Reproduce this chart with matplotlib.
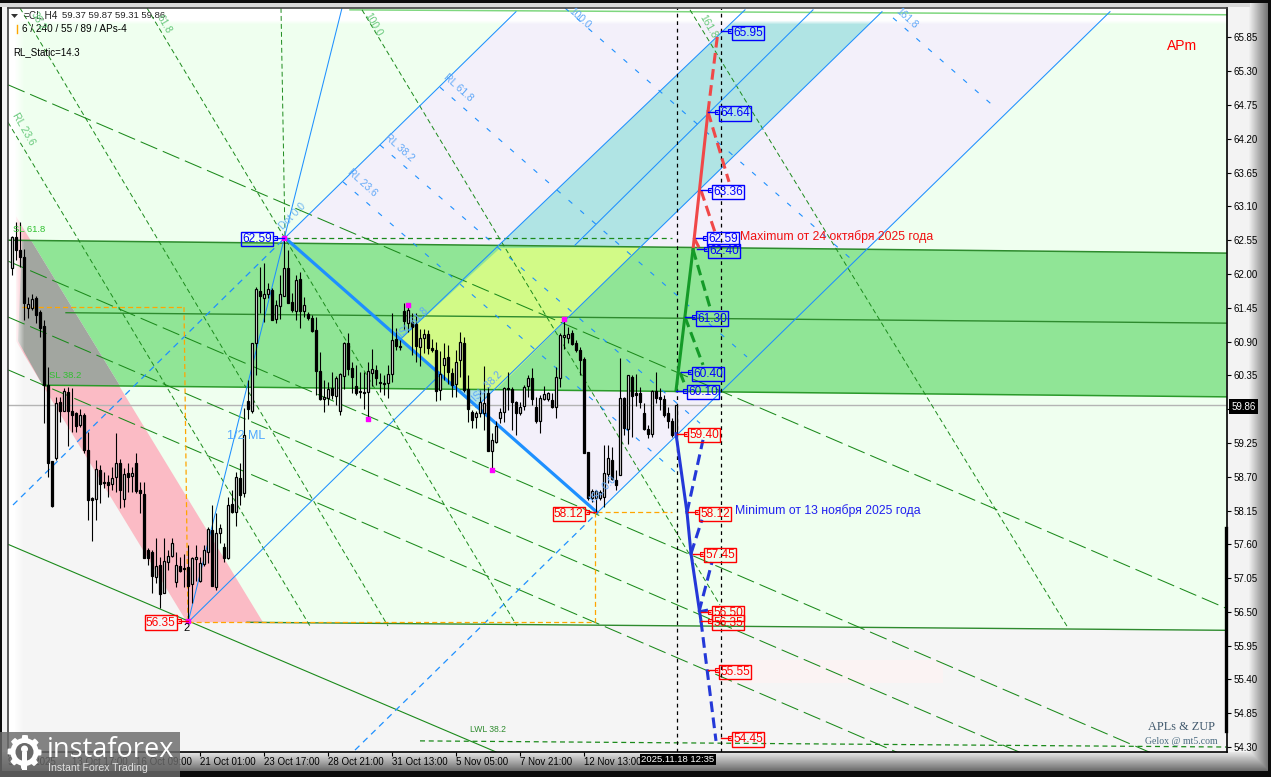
import numpy as np
import matplotlib
matplotlib.use('Agg')
import matplotlib.pyplot as plt
from matplotlib.patches import Polygon, Rectangle, Circle

plt.rcParams['font.family'] = ['Liberation Sans', 'DejaVu Sans']

# CL H4 candles, left to right
opens = [62.10,62.60,62.39,62.27,61.45,61.45,61.61,61.38,61.16,60.20,
         58.95,59.00,59.92,59.77,60.08,59.77,59.74,59.54,59.71,59.13,
         58.35,58.34,58.81,58.61,58.61,58.58,58.70,58.92,58.34,58.76,
         58.71,58.92,58.48,58.42,57.51,57.48,57.07,57.26,56.80,57.32,
         57.41,56.98,57.25,57.21,57.23,56.95,57.36,57.00,57.28,57.47,
         57.83,56.90,57.78,57.55,57.37,58.26,58.13,58.68,58.43,59.93,
         59.77,60.88,61.73,61.61,61.68,61.74,61.27,61.48,61.65,62.09,
         61.55,61.40,61.92,61.40,61.35,61.29,61.09,60.42,59.97,59.98,
         60.15,60.01,59.77,60.34,60.88,60.47,60.18,60.10,60.08,60.08,
         60.39,60.44,60.25,60.23,60.23,60.38,60.94,60.83,61.40,61.21,
         61.22,61.19,60.81,60.96,61.03,60.79,60.76,60.11,60.52,60.65,
         60.39,60.21,60.60,60.88,60.13,59.75,59.67,59.74,59.74,60.06,
         59.12,59.27,59.66,59.75,60.15,60.13,59.92,59.74,59.85,60.18,
         60.31,59.84,59.61,59.97,59.97,59.95,59.84,60.31,60.97,60.96,
         61.04,60.88,60.76,60.62,59.10,58.35,58.35,58.35,58.37,58.74,
         58.97,58.65,58.73,59.98,59.47,60.33,60.06,60.06,59.74,59.48,
         59.40,60.10,60.00,59.97,59.74,59.61,59.37]
highs = [62.62,62.85,62.85,62.40,61.63,61.68,61.64,61.42,61.25,60.49,
         58.95,60.00,60.00,60.15,60.16,60.15,59.76,59.80,59.74,59.43,
         58.37,58.97,58.89,58.78,58.73,58.86,59.41,58.99,58.84,58.92,
         58.86,59.08,58.61,58.61,57.54,57.51,57.70,57.39,57.70,57.51,
         57.70,57.47,57.39,57.44,57.59,57.39,57.59,57.39,57.59,57.88,
         58.24,58.11,57.93,57.62,58.37,58.48,58.78,58.92,59.82,60.28,
         60.88,61.79,62.12,62.18,61.86,61.78,61.58,61.99,62.59,62.39,
         61.69,61.99,62.04,61.63,61.38,61.33,61.30,60.73,60.28,60.25,
         60.41,60.34,60.39,60.90,61.04,60.57,60.52,60.41,60.41,60.57,
         60.78,60.52,60.39,60.36,60.52,61.37,61.12,60.93,61.53,61.51,
         61.37,61.37,61.11,61.11,61.09,60.94,60.90,60.74,60.88,60.85,
         60.47,60.76,61.06,60.98,60.36,59.79,59.77,60.11,60.50,60.16,
         59.41,59.60,59.82,60.16,60.41,60.16,59.93,59.92,60.20,60.36,
         60.47,60.00,60.03,60.18,60.08,60.07,60.49,61.04,61.27,61.14,
         61.09,60.93,60.81,60.65,59.10,58.50,58.48,58.48,59.22,59.22,
         59.19,58.81,60.63,60.00,60.35,60.35,60.38,60.16,59.90,59.54,
         60.11,60.41,60.15,60.03,59.84,59.66,59.87]
lows = [61.99,62.23,62.12,61.25,61.29,61.42,61.21,60.98,59.58,58.69,
        58.21,58.98,59.59,59.77,59.20,59.43,59.42,59.51,59.08,57.99,
        57.65,57.99,58.27,58.52,58.37,58.48,58.45,58.19,58.21,58.45,
        58.45,58.43,58.11,57.37,57.26,56.80,56.97,56.56,56.80,57.18,
        57.39,56.90,57.15,56.90,56.35,56.64,57.00,56.98,57.25,57.30,
        56.92,56.85,57.62,57.31,57.36,58.11,57.90,58.24,58.37,59.64,
        59.74,60.36,61.37,61.22,61.61,61.25,61.21,61.27,61.65,61.53,
        61.38,61.25,61.12,61.30,61.25,61.06,60.03,59.95,59.75,59.87,
        59.97,59.87,59.71,60.13,60.36,60.06,60.03,59.98,59.80,59.64,
        60.18,60.20,60.08,60.03,59.98,60.25,60.76,60.76,61.09,61.06,
        60.68,60.57,60.50,60.72,60.69,60.73,59.93,59.95,60.28,60.21,
        60.00,60.00,60.33,60.08,59.59,59.49,59.49,59.67,59.46,59.12,
        58.81,59.25,59.57,59.59,59.79,59.46,59.38,59.71,59.79,60.00,
        59.87,59.57,59.41,59.95,59.93,59.82,59.66,60.16,60.78,60.88,
        60.85,60.73,60.36,59.08,58.32,58.29,58.12,58.32,58.20,58.60,
        58.65,58.48,58.73,59.38,59.23,59.35,59.85,59.82,59.46,59.33,
        59.35,59.90,59.79,59.67,59.49,59.35,59.31]
closes = [62.60,62.39,62.27,61.53,61.51,61.60,61.33,61.12,60.20,58.92,
          58.23,59.90,59.77,60.10,59.77,59.71,59.53,59.71,59.13,58.32,
          58.32,58.83,58.58,58.59,58.56,58.68,58.92,58.48,58.75,58.70,
          58.76,58.47,58.43,57.38,57.38,57.08,57.25,56.79,57.33,57.41,
          57.62,57.26,57.17,57.20,56.92,57.38,57.39,57.30,57.51,57.85,
          56.92,57.78,57.87,57.38,58.24,58.13,58.70,58.40,59.38,59.80,
          60.88,61.76,61.65,61.68,61.76,61.25,61.50,61.68,62.10,61.53,
          61.42,61.91,61.40,61.50,61.29,61.07,60.42,59.97,60.00,60.13,
          60.03,60.31,60.38,60.88,60.46,60.33,60.07,60.08,60.07,60.42,
          60.46,60.31,60.23,60.21,60.38,60.93,60.83,60.81,61.24,61.42,
          61.14,60.83,60.96,61.03,60.79,60.76,60.10,60.38,60.63,60.41,
          60.20,60.57,60.90,60.11,59.80,59.62,59.74,59.92,59.90,59.12,
          59.30,59.53,59.75,60.15,60.13,59.92,59.74,59.84,60.16,60.31,
          59.97,59.61,59.98,60.05,60.07,59.84,60.33,61.01,61.01,61.03,
          60.86,60.76,60.60,59.08,58.35,58.47,58.47,58.45,58.76,59.00,
          58.66,58.56,59.98,59.49,60.35,60.01,60.03,59.92,59.48,59.40,
          60.10,59.98,59.97,59.71,59.61,59.38,59.86]

# axis labels
price_ticks = [65.85,65.30,64.75,64.20,63.65,63.10,62.55,62.00,61.45,60.90,60.35,
               59.80,59.25,58.70,58.15,57.60,57.05,56.50,55.95,55.40,54.85,54.30]
time_bars = [-1,15,31,47,63,79,95,111,127,143]
time_labels = ['9 Oct 2025','13 Oct 17:00','16 Oct 09:00','21 Oct 01:00','23 Oct 17:00',
               '28 Oct 21:00','31 Oct 13:00','5 Nov 05:00','7 Nov 21:00','12 Nov 13:00']
last_price = 59.86

# zones (bar, price)
green_zone = [(4.75,62.55),(303.5,62.34),(303.5,60.00),(27,60.18)]
grey_zone = [(2.5,62.55),(4.75,62.55),(27,60.18),(7.75,60.18),(1.5,60.91)]
pink_zone = [(1,62.94),(62.75,56.33),(43.75,56.33),(7.75,60.18),(1,60.91)]
lavender_zone = [(68.25,62.59),(127,66.33),(275.5,66.33),(146.25,58.12)]
teal_zone = [(97,60.93),(183.75,66.33),(218.5,66.33),(116,59.83)]
yellow_zone = [(97,60.93),(122,62.42),(157,62.44),(121.25,60.13),(111,60.13)]
grey_floor = [(-1,60.91),(1,60.91),(43.75,56.33),(58.75,56.33),(303.75,56.20),(303.75,54.2),(-1,54.2)]

# lines: (bar0, price0, bar1, price1)
long_dash = [(-1,65.08,303.5,56.56),(-1,62.21,303.5,53.68),(-1,61.30,303.5,52.77),(-1,60.44,303.5,51.91)]
short_green = [(33.75,66.33,126.25,56.27),(2,66.33,94,56.27),(-1,64.47,74.5,56.27),
               (87.5,66.30,177,56.61),(169.5,66.30,264,56.24),(67.25,66.33,68.25,62.59)]
short_blue = [(107,65.04,183.75,60.65),(92,64.10,172,59.57),(82.75,63.50,165.75,58.78),
              (138.25,66.33,209.5,62.26),(220.25,66.17,246.5,64.67)]
long_blue = [(0.25,58.24,68.25,62.59),(85.75,54.25,146.25,58.11)]
thin_blue = [(44,56.33,82.5,66.33),(44,56.33,107,60.36),(140.75,62.47,200.25,66.30),
             (68.25,62.59,126,66.27),(97,60.93,183.25,66.30),(116,59.83,217.5,66.27),(146.25,58.11,274.5,66.27)]
orange = [(2.5,61.46,43,61.46),(43,61.46,44,56.33),(44,56.33,145.75,56.33),
          (145.75,58.12,145.75,56.33),(146.25,58.12,165,58.12)]

# forecast paths
red_solid = [(170.25,62.40,174,64.64)]
red_dash = [(174,64.64,176.5,65.95),(172.25,63.36,175.75,62.68),(174,64.64,179.25,63.50),(170.5,62.59,172,62.40)]
green_solid = [(166,60.10,170.25,62.40)]
green_dash = [(170.25,62.40,174.75,61.40),(168.25,61.30,172.75,60.52),(167,60.40,168.25,60.19)]
blue_solid = [(166,59.40,168.75,58.12),(168.75,58.12,169.75,57.45),(169.75,57.45,172.25,56.35)]
blue_dash = [(168.75,58.12,172.75,59.30),(169.75,57.45,172.5,58.00),(171.75,56.50,175,57.31),
             (171.75,56.50,174,56.53),(172.25,56.35,176,54.40)]

# price tags
tag_bars = [177.25,174,172.25,171,171.25,168.25,167.25,166]
tag_blue = [65.95,64.64,63.36,62.59,62.40,61.30,60.40,60.10]
tag_red_bars = [166.25,169,170.25,172.25,172.25,174,177.25]
tag_red = [59.40,58.12,57.45,56.50,56.35,55.55,54.45]
left_bars = [68,146,44]
left_vals = [62.59,58.12,56.35]
left_cols = ['blue','red','red']
pivot_bars = [68,89,99,120,138,44]
pivot_vals = [62.59,59.64,61.49,58.81,61.27,56.35]


def p_lines(ax, segs, **kw):
    for b0, p0, b1, p1 in segs:
        ax.plot([b0, b1], [p0, p1], **kw)


fig = plt.figure(figsize=(12.71, 7.77), dpi=100)

# window bevel behind everything
img = np.full((777, 1271), 0.955)
for x in range(1248, 1268):
    img[:, x] = 0.955 - 0.52 * (x - 1248) / 20
for y in range(752, 771):
    v = 0.9 - 0.5 * (y - 752) / 19
    img[y, :] = np.minimum(img[y, :], v)
img[:3, :] = 0.05
img[771:, :] = 0.05
img[:, :2] = 0.05
img[:, 1268:] = 0.05
img[3:7, :1250] = 0.85
bg = fig.add_axes([0, 0, 1, 1], zorder=0)
bg.imshow(img, cmap='gray', vmin=0, vmax=1, aspect='auto', extent=(0, 1271, 777, 0))
bg.axis('off')

ax = fig.add_axes([8/1271, 25/777, 1219/1271, 744/777], zorder=1)
ax.set_xlim(-1, 303.75)
ax.set_ylim(54.219, 66.33)
ax.set_facecolor('#EFFFEF')

ax.add_patch(Polygon(grey_floor, fc='#F5F5F5', ec='none', zorder=1))
ax.add_patch(Rectangle((178.25, 55.34), 54.5, 0.38, fc='#FBF3F3', ec='none', zorder=1.1))
ax.add_patch(Polygon(lavender_zone, fc='#F3F0FA', ec='none', zorder=1.2))
ax.add_patch(Polygon(teal_zone, fc='#B0E4E4', ec='none', zorder=1.3))
ax.add_patch(Polygon(pink_zone, fc='#FBBBC5', ec='none', zorder=1.4))
ax.add_patch(Polygon(green_zone, fc='#90E596', ec='none', zorder=1.5))
ax.add_patch(Polygon(yellow_zone, fc='#D2FA87', ec='none', zorder=1.6))
ax.add_patch(Polygon(grey_zone, fc='#A2A6A0', ec='none', zorder=1.6))

# white fade along the left and top of the window
fade_x = np.ones((2, 16, 4))
fade_x[:, :, 3] = np.clip((16 - np.arange(16)) / 10, 0, 1)
ax.imshow(fade_x, extent=(-1, 3, 54.219, 66.33), aspect='auto', zorder=1.7)
fade_y = np.ones((16, 2, 4))
fade_y[:, :, 3] = np.clip((16 - np.arange(16)) / 4, 0, 1)[:, None]
ax.imshow(fade_y, extent=(-1, 303.75, 66.07, 66.33), aspect='auto', zorder=1.7)
ax.set_xlim(-1, 303.75)
ax.set_ylim(54.219, 66.33)

ax.axhline(last_price, color='#B4B4B4', lw=1, zorder=2)

green = '#1B8A1B'
ax.plot([-1, 303.5], [62.55, 62.34], color='#2E8B2E', lw=1.1, zorder=2)
ax.plot([13.5, 303.5], [61.37, 61.20], color='#2E8B2E', lw=1, zorder=2)
ax.plot([7.75, 303.5], [60.19, 60.00], color='#2A9A2A', lw=1.1, zorder=2)
ax.plot([58.75, 303.5], [56.33, 56.20], color='#2E8B2E', lw=1, zorder=2)
ax.plot([84.5, 303.5], [66.30, 66.22], color='#7FD77F', lw=1.1, zorder=2)
ax.plot([-1, 121], [57.60, 54.22], color=green, lw=0.8, zorder=2)
ax.plot([102, 303.5], [54.40, 54.30], color=green, lw=0.9, dashes=(4, 3), zorder=2)
ax.plot([68.25, 165], [62.59, 62.59], color=green, lw=0.9, dashes=(4, 3), zorder=2)

p_lines(ax, long_dash, color=green, lw=0.75, dashes=(17.3, 5.8), zorder=2)
p_lines(ax, short_green, color=green, lw=0.7, dashes=(5, 3.2), zorder=2)
p_lines(ax, short_blue, color='#1E90FF', lw=0.8, dashes=(4.5, 9.5), zorder=2)
p_lines(ax, long_blue, color='#1E90FF', lw=0.9, dashes=(5, 4), zorder=2)
p_lines(ax, thin_blue, color='#1E90FF', lw=0.75, zorder=2)
p_lines(ax, orange, color='#FFA500', lw=0.9, dashes=(4, 2.5), zorder=2.1)
ax.plot([68.25, 146.25], [62.59, 58.12], color='#1E90FF', lw=2.3, zorder=2.2)

for b in [166.25, 177.25]:
    ax.axvline(b, color='black', lw=0.9, dashes=(3, 3), zorder=2.3)

# candles
bars = np.arange(len(opens))
o, h, l, c = map(np.array, (opens, highs, lows, closes))
up = c >= o
ax.vlines(bars, l, h, color='black', lw=0.8, zorder=3)
ax.bar(bars[up], (c - o)[up], bottom=o[up], width=0.62, color='white',
       edgecolor='black', linewidth=0.9, zorder=3.1)
ax.bar(bars[~up], (o - c)[~up], bottom=c[~up], width=0.62, color='black',
       edgecolor='black', linewidth=0.9, zorder=3.1)
ax.scatter(pivot_bars, pivot_vals, s=5, marker='s', color='#FF00FF', zorder=3.2)

# forecast
p_lines(ax, red_solid, color='#F04848', lw=2.2, zorder=4)
p_lines(ax, red_dash, color='#F04848', lw=2.2, dashes=(3.5, 1.8), zorder=4)
p_lines(ax, green_solid, color='#149A28', lw=2.2, zorder=4)
p_lines(ax, green_dash, color='#149A28', lw=2.2, dashes=(3.5, 1.8), zorder=4)
p_lines(ax, blue_solid, color='#2438D8', lw=2.2, zorder=4)
p_lines(ax, blue_dash, color='#2438D8', lw=2.2, dashes=(3.5, 1.8), zorder=4)


def tag(b, v, col, side=1):
    gap = 9 / 4 * side
    ax.plot([b, b + gap], [v, v], color=col, lw=1, zorder=4.5)
    ax.plot([b + gap], [v], marker='s', ms=2.6, mfc='none', mec=col, mew=0.8, zorder=4.5)
    ax.annotate(f'{v:.2f}', (b + gap, v), xytext=(2.4 * side, 0), textcoords='offset points',
                ha='left' if side > 0 else 'right', va='center_baseline', color=col, fontsize=8.6, zorder=5,
                bbox=dict(boxstyle='square,pad=0.1', fc='none', ec=col, lw=1))


for b, v in zip(tag_bars, tag_blue):
    tag(b, v, 'blue')
for b, v in zip(tag_red_bars, tag_red):
    tag(b, v, 'red')
for b, v, col in zip(left_bars, left_vals, left_cols):
    tag(b, v, col, side=-1)

# axes
ax.yaxis.tick_right()
ax.set_yticks(price_ticks)
ax.set_yticklabels([f'{v:.2f}' for v in price_ticks])
ax.set_xticks(time_bars)
ax.set_xticklabels(time_labels, ha='left')
ax.tick_params(axis='both', length=3, width=0.8, labelsize=7, pad=2, color='black')
ax.tick_params(axis='x', pad=0.8)
for s in ['right', 'bottom']:
    ax.spines[s].set_color('black')
    ax.spines[s].set_linewidth(1.2)
for s in ['top', 'left']:
    ax.spines[s].set_color('#404040')
    ax.spines[s].set_linewidth(1.2)
ax.plot([303.55, 303.55], [54.56, 57.86], color='black', lw=2.4, clip_on=False, zorder=5)

# text, watermark and tags in window pixels
top = fig.add_axes([0, 0, 1, 1], zorder=2)
top.set_xlim(0, 1271)
top.set_ylim(777, 0)
top.axis('off')

top.text(24, 16, '=CL,H4', fontsize=7.2, va='center', color='#222222')
top.text(62, 16, '59.37 59.87 59.31 59.86', fontsize=6.8, va='center', color='#222222')
top.add_patch(Polygon([(11, 14), (18, 14), (14.5, 18)], fc='#333333', ec='none'))
top.plot([16.5, 16.5], [25, 33], color='#FFA500', lw=1)
top.text(22, 29, '6 / 240 / 55 / 89 / APs-4', fontsize=7.2, va='center')
top.text(13, 52, 'RL_Static=14.3', fontsize=7, va='center')
top.text(1167, 46, 'APm', fontsize=10, va='center', color='red')
top.text(740, 237, 'Maximum от 24 октября 2025 года', fontsize=8.8, va='center', color='#F01010')
top.text(735, 511, 'Minimum от 13 ноября 2025 года', fontsize=8.8, va='center', color='#2020F0')
top.text(227, 436, '1/2 ML', fontsize=9, va='center', color='#4DA6FF')
top.text(187, 628, '2', fontsize=8, va='center', ha='center')
top.text(1181, 727, 'APLs & ZUP', fontsize=8.8, va='center', ha='center', family='Liberation Serif', color='#40586C')
top.text(1181, 741, 'Gelox @ mt5.com', fontsize=7, va='center', ha='center', family='Liberation Serif', color='#4A6A80')

for txt, x, y, rot, col in [('RL 23.6', 24, 129, -60, '#66C87A'), ('38.2', 38, 21, -60, '#66C87A'),
                            ('61.8', 164, 24, -60, '#66C87A'), ('100.0', 373, 25, -60, '#66C87A'),
                            ('161.8', 708, 27, -60, '#66C87A'), ('RL 23.6', 362, 183, -42, '#60A8F8'),
                            ('RL 38.2', 399, 148, -42, '#60A8F8'), ('RL 61.8', 458, 88, -42, '#60A8F8'),
                            ('100.0', 580, 18, -42, '#60A8F8'), ('161.8', 907, 18, -42, '#60A8F8'),
                            ('Dot 0.0', 293, 216, 45, '#70B8F0'), ('ISL 61.8', 413, 323, 45, '#60A8F8'),
                            ('ISL 38.2', 487, 386, 45, '#60A8F8'), ('ISL 0.0', 603, 490, 45, '#60A8F8')]:
    top.text(x, y, txt, fontsize=7.4, rotation=rot, ha='center', va='center', color=col)
top.text(13, 230, 'SL 61.8', fontsize=6.8, va='center', color='#30C030')
top.text(49, 375, 'SL 38.2', fontsize=6.8, va='center', color='#30C030')
top.text(470, 729, 'LWL 38.2', fontsize=6.2, va='center', color='#2E8B2E')

top.text(1243.5, 406.5, f'{last_price:.2f}', fontsize=7, ha='center', va='center', color='white',
         bbox=dict(boxstyle='square,pad=0.25', fc='black', ec='none'))
top.add_patch(Rectangle((640, 754), 76, 11, fc='black', ec='none'))
top.text(678, 759.5, '2025.11.18 12:35', fontsize=6.8, ha='center', va='center', color='white')

# watermark
top.add_patch(Rectangle((0, 732), 180, 45, fc='#6A6A6A', ec='none', alpha=0.82))
ang = np.linspace(0, 2 * np.pi, 97)
rad = 17 - 3 * (np.cos(8 * ang) < 0)
gear = np.column_stack([24.5 + rad * np.cos(ang), 752 + rad * np.sin(ang)])
top.add_patch(Polygon(gear, fc='white', ec='none'))
top.add_patch(Circle((24.5, 752), 9, fc='#6A6A6A', ec='none'))
top.add_patch(Circle((24.5, 749), 3.5, fc='white', ec='none'))
top.add_patch(Rectangle((22, 752), 5, 18, fc='white', ec='none'))
top.text(47, 750, 'instaforex', fontsize=19.5, va='center', color='white', family='Open Sans')
top.text(48, 768, 'Instant Forex Trading', fontsize=7.6, va='center', color='#E0E0E0')

fig.savefig('out.png', dpi=100)
